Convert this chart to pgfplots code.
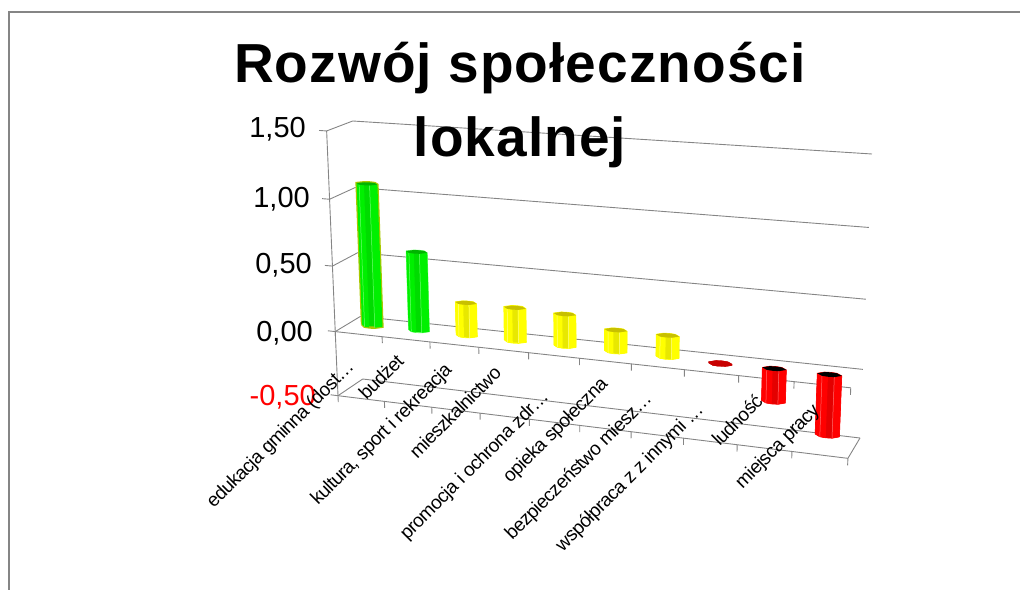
\documentclass[border=0pt]{standalone}
\usepackage{fontspec}
\setmainfont{Liberation Sans}
\newfontfamily\catfont[LetterSpace=-3]{Liberation Sans}
\newfontfamily\titlefont[LetterSpace=2]{Liberation Sans}
\usepackage{pgfplots}
\pgfplotsset{compat=1.18}

\definecolor{gridc}{HTML}{858585}
\definecolor{grnA}{HTML}{00F000}\definecolor{grnB}{HTML}{00DC00}\definecolor{grnC}{HTML}{00B400}\definecolor{grnD}{HTML}{70FF70}
\definecolor{yelA}{HTML}{FFFF00}\definecolor{yelB}{HTML}{E8E800}\definecolor{yelC}{HTML}{C8C000}\definecolor{yelD}{HTML}{FFFF90}
\definecolor{redA}{HTML}{FF0000}\definecolor{redB}{HTML}{E40000}\definecolor{redC}{HTML}{000000}\definecolor{redD}{HTML}{FF7070}
\definecolor{drdA}{HTML}{C80000}\definecolor{drdB}{HTML}{C80000}\definecolor{drdC}{HTML}{C80000}\definecolor{drdD}{HTML}{C80000}
\definecolor{olive}{HTML}{A8C800}

% line in chart coordinates: category position, depth (0 front, 1 back), value
\newcommand\seg[6]{\addplot[gridc,line width=0.9bp] table[row sep=\\,
  x expr={PX(\thisrow{c},\thisrow{d},\thisrow{z})},
  y expr={PY(\thisrow{c},\thisrow{d},\thisrow{z})}] {c d z\\ #1 #2 #3\\ #4 #5 #6\\};}

% one bar: category, low value, high value, colour family, edge colour, edge width
\newcommand\bodypoly[3]{\addplot[#2] table[row sep=\\,
  x expr={PX(#1+0.5+0.22*\thisrow{a},0.55+0.12*\thisrow{b},\thisrow{z})},
  y expr={PY(#1+0.5+0.22*\thisrow{a},0.55+0.12*\thisrow{b},\thisrow{z})}] {a b z\\ #3};}
\newcommand\cyl[6]{%
  \bodypoly{#1}{fill=#4B,draw=#5,line width=#6}{-1 0 #2\\ -0.5 -0.87 #2\\ 0 -1 #2\\ 0.5 -0.87 #2\\ 1 0 #2\\ 1 0 #3\\ 0.5 0.87 #3\\ 0 1 #3\\ -0.5 0.87 #3\\ -1 0 #3\\ -1 0 #2\\}
  \bodypoly{#1}{fill=#4A,draw=none}{-1 0 #2\\ -0.5 -0.87 #2\\ 0 -1 #2\\ 0 -1 #3\\ -0.5 -0.87 #3\\ -1 0 #3\\}
  \bodypoly{#1}{fill=#4A,draw=none}{0.5 -0.87 #2\\ 1 0 #2\\ 1 0 #3\\ 0.5 -0.87 #3\\}
  \bodypoly{#1}{#4D,line width=0.5bp}{-0.5 -0.87 #2\\ -0.5 -0.87 #3\\}
  \bodypoly{#1}{#4D,line width=0.5bp}{0.5 -0.87 #2\\ 0.5 -0.87 #3\\}
  \bodypoly{#1}{fill=#4C,draw=none}{-1 0 #3\\ -0.5 -0.87 #3\\ 0 -1 #3\\ 0.5 -0.87 #3\\ 1 0 #3\\ 0.5 0.87 #3\\ 0 1 #3\\ -0.5 0.87 #3\\}
}
\newcommand\catlabel[3]{\node[rotate=45,anchor=center,font=\catfont\fontsize{19bp}{19bp}\selectfont] at (axis cs:#1,#2) {#3};}
\newcommand\vallabel[4]{\node[anchor=base east,inner sep=0pt,text=#4,font=\fontsize{29bp}{29bp}\selectfont] at (axis cs:#1,#2) {#3};}

\begin{document}
\begin{tikzpicture}
\begin{axis}[
  scale only axis, width=1020bp, height=590bp,
  xmin=0, xmax=1020, ymin=0, ymax=590, y dir=reverse,
  hide axis,
  declare function={
    PD(\cc,\dd,\zz)=1-0.00962*\cc-0.02005*(\zz+0.5)-0.027*(1-\dd);
    PX(\cc,\dd,\zz)=(362.7+41.457*\cc-12.07*(\zz+0.5)-33.83*(1-\dd))/PD(\cc,\dd,\zz);
    PY(\cc,\dd,\zz)=(379+1.686*\cc-131.425*(\zz+0.5)+6.02*(1-\dd))/PD(\cc,\dd,\zz);
  },
]
% keep the whole canvas in the bounding box
\path (axis cs:0,0) rectangle (axis cs:1020,590);
% chart area frame
\addplot[gridc,line width=1.2bp] coordinates {(9,590) (9,12) (1020,12)};

% back wall and left wall
\seg{0}{1}{1.5}{10}{1}{1.5}
\seg{0}{1}{1}{10}{1}{1}
\seg{0}{1}{0.5}{10}{1}{0.5}
\seg{0}{1}{0}{10}{1}{0}
\seg{0}{1}{-0.5}{10}{1}{-0.5}
\seg{0}{0}{-0.5}{0}{0}{1.5}
\seg{0}{0}{1.5}{0}{1}{1.5}
\seg{0}{0}{1}{0}{1}{1}
\seg{0}{0}{0.5}{0}{1}{0.5}
\seg{0}{0}{0}{0}{1}{0}
\seg{0}{0}{-0.5}{0}{1}{-0.5}
\seg{-0.16}{0}{1.5}{0}{0}{1.5}
\seg{-0.16}{0}{1}{0}{0}{1}
\seg{-0.16}{0}{0.5}{0}{0}{0.5}
\seg{-0.16}{0}{0}{0}{0}{0}
\seg{-0.16}{0}{-0.5}{0}{0}{-0.5}

% front edges at zero and at the floor, with category ticks
\seg{0}{0}{0}{10}{0}{0}
\seg{0}{0}{-0.5}{10}{0}{-0.5}
\seg{10}{0}{-0.5}{10}{1}{-0.5}
\seg{0}{0}{0}{0}{0}{-0.05}\seg{1}{0}{0}{1}{0}{-0.05}\seg{2}{0}{0}{2}{0}{-0.05}
\seg{3}{0}{0}{3}{0}{-0.05}\seg{4}{0}{0}{4}{0}{-0.05}\seg{5}{0}{0}{5}{0}{-0.05}
\seg{6}{0}{0}{6}{0}{-0.05}\seg{7}{0}{0}{7}{0}{-0.05}\seg{8}{0}{0}{8}{0}{-0.05}
\seg{9}{0}{0}{9}{0}{-0.05}\seg{10}{0}{0}{10}{0}{-0.05}
\seg{0}{0}{-0.5}{0}{0}{-0.55}\seg{1}{0}{-0.5}{1}{0}{-0.55}\seg{2}{0}{-0.5}{2}{0}{-0.55}
\seg{3}{0}{-0.5}{3}{0}{-0.55}\seg{4}{0}{-0.5}{4}{0}{-0.55}\seg{5}{0}{-0.5}{5}{0}{-0.55}
\seg{6}{0}{-0.5}{6}{0}{-0.55}\seg{7}{0}{-0.5}{7}{0}{-0.55}\seg{8}{0}{-0.5}{8}{0}{-0.55}
\seg{9}{0}{-0.5}{9}{0}{-0.55}\seg{10}{0}{-0.5}{10}{0}{-0.55}

% bars
\cyl{0}{0}{1.08}{grn}{olive}{2.4bp}
\cyl{1}{0}{0.60}{grn}{grnD}{0.8bp}
\cyl{2}{0}{0.25}{yel}{yelA}{0.6bp}
\cyl{3}{0}{0.25}{yel}{yelA}{1.2bp}
\cyl{4}{0}{0.24}{yel}{yelA}{0.6bp}
\cyl{5}{0}{0.16}{yel}{yelA}{0.6bp}
\cyl{6}{0}{0.16}{yel}{yelA}{0.6bp}
\cyl{7}{-0.01}{0}{drd}{drdA}{0.2bp}
\cyl{8}{-0.24}{0}{red}{redA}{0.6bp}
\cyl{9}{-0.44}{0}{red}{redA}{0.6bp}

% value axis labels
\vallabel{306}{138}{1,50}{black}
\vallabel{310}{208}{1,00}{black}
\vallabel{312}{274}{0,50}{black}
\vallabel{313}{341}{0,00}{black}
\vallabel{316}{405}{-0,50}{red}

% category labels
\catlabel{281}{435}{edukacja gminna (dost…}
\catlabel{381}{377}{budżet}
\catlabel{382}{435}{kultura, sport i rekreacja}
\catlabel{455}{412}{mieszkalnictwo}
\catlabel{475}{466}{promocja i ochrona zdr…}
\catlabel{556}{431}{opieka społeczna}
\catlabel{579}{467}{bezpieczeństwo miesz…}
\catlabel{630}{478}{współpraca z z innymi …}
\catlabel{737}{420}{ludność}
\catlabel{778}{447}{miejsca pracy}

% title
\node[anchor=base,font=\titlefont\fontsize{55bp}{55bp}\selectfont\bfseries] at (axis cs:520,83) {Rozwój społeczności};
\node[anchor=base,font=\titlefont\fontsize{55bp}{55bp}\selectfont\bfseries] at (axis cs:520,157) {lokalnej};
\end{axis}
\end{tikzpicture}
\end{document}
